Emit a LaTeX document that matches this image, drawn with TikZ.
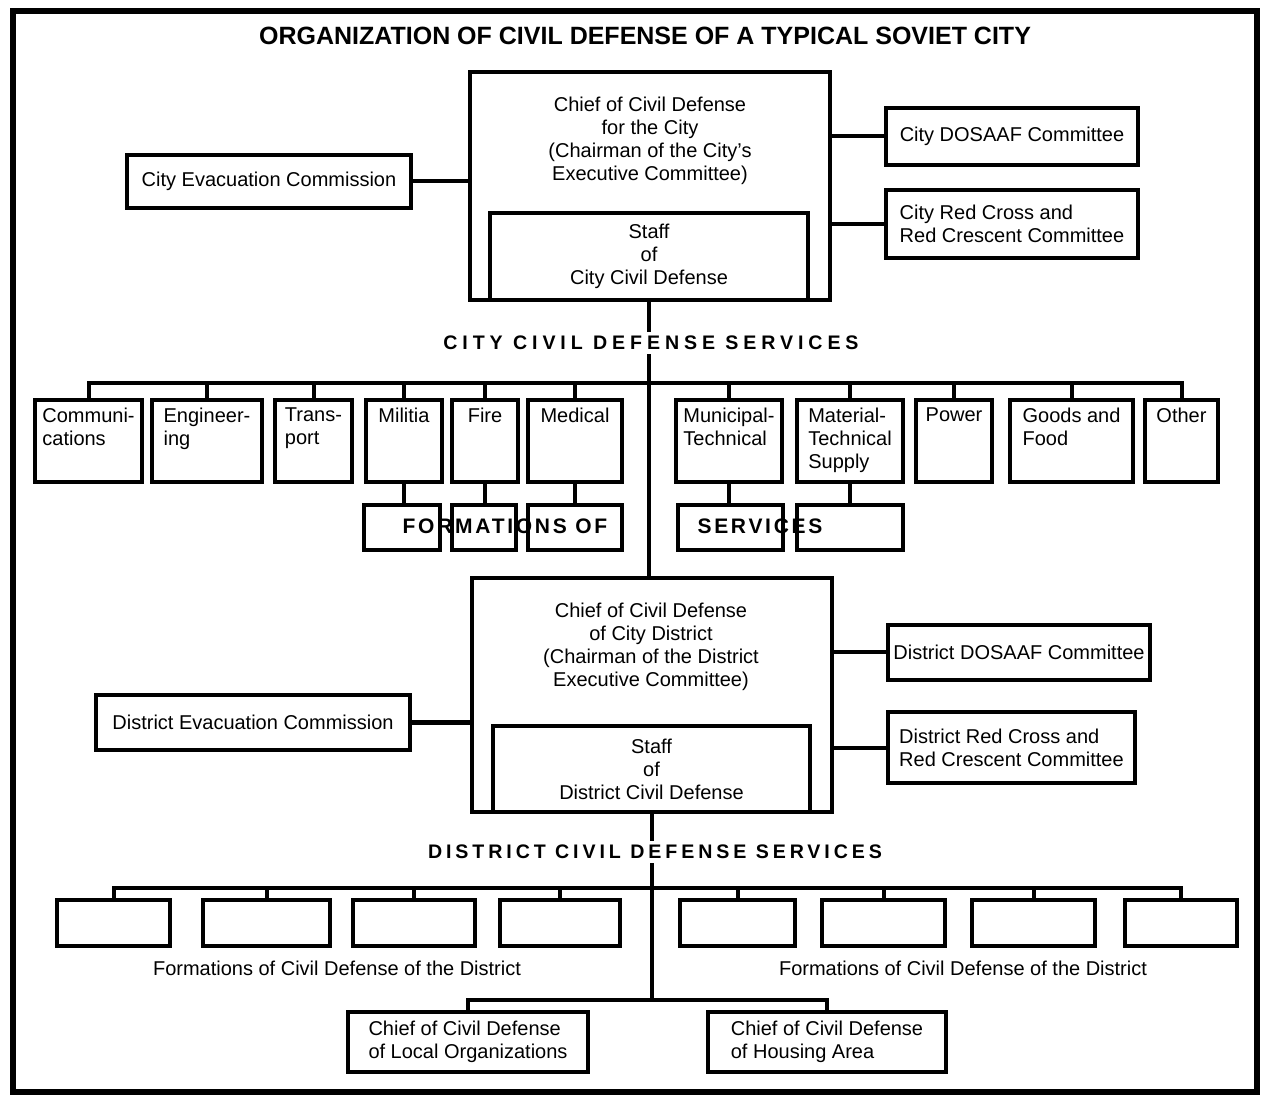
\documentclass[tikz,border=0pt]{standalone}
\usepackage{fontspec}
\setmainfont{Liberation Sans}
\usetikzlibrary{positioning}

\begin{document}
\begin{tikzpicture}[x=0.5pt,y=-0.5pt,line width=2pt,
    every node/.style={font=\fontsize{10}{11.5}\selectfont},
    box/.style={draw,inner sep=0pt,align=center},
    sbox/.style={draw,inner sep=0pt,minimum height=41pt},
    slabel/.style={anchor=north,align=left,inner sep=4pt},
    fbox/.style={draw,inner sep=0pt,minimum height=22.5pt},
    dbox/.style={draw,inner sep=0pt,minimum height=23pt},
    heading/.style={fill=white,inner sep=2pt,font=\fontsize{9.8}{11}\selectfont\bfseries\addfontfeatures{LetterSpace=#1}},
    spread/.style={inner sep=0pt,font=\fontsize{10.5}{12}\selectfont\bfseries\addfontfeatures{LetterSpace=13}}]
        \useasboundingbox (0,0) rectangle (1281,1096);
        \draw [line width=2.8pt] (13,11) rectangle (1257,1092);
        \node [font=\fontsize{12.5}{14}\selectfont\bfseries] (title) at (645,36) {ORGANIZATION OF CIVIL DEFENSE OF A TYPICAL SOVIET CITY};

        % city level
        \node [box,minimum width=180pt,minimum height=114pt] (citychief) at (650,186) {};
        \node [align=center] (citytitle) at (650,141) {Chief of Civil Defense\\for the City\\(Chairman of the City’s\\Executive Committee)};
        \node [box,minimum width=159pt,minimum height=43.5pt] (citystaff) at (649,256.5) {Staff\\of\\City Civil Defense};
        \node [box,minimum width=142pt,minimum height=26.5pt] (cityevac) at (269,181.5) {City Evacuation Commission};
        \node [box,minimum width=126pt,minimum height=28.5pt] (citydosaaf) at (1012,136.5) {City DOSAAF Committee};
        \node [box,align=left,minimum width=126pt,minimum height=34pt] (cityredcross) at (1012,224) {City Red Cross and\\Red Crescent Committee};
        \draw (cityevac.east) -- (cityevac.east -| citychief.west);
        \draw (citydosaaf.west) -- (citydosaaf.west -| citychief.east);
        \draw (cityredcross.west) -- (cityredcross.west -| citychief.east);

        % city services
        \coordinate (citybus) at (650,383);
        \node [sbox,minimum width=53.5pt,label={[slabel]north:{Communi-\\cations}}] (comm) at (88.5,441) {};
        \node [sbox,minimum width=55pt,label={[slabel]north:{Engineer-\\ing}}] (eng) at (207,441) {};
        \node [sbox,minimum width=38.5pt,label={[slabel]north:{Trans-\\port}}] (trans) at (313.5,441) {};
        \node [sbox,minimum width=38pt,label={[slabel]north:{Militia}}] (mil) at (404,441) {};
        \node [sbox,minimum width=33pt,label={[slabel]north:{Fire}}] (fire) at (485,441) {};
        \node [sbox,minimum width=47pt,label={[slabel]north:{Medical}}] (med) at (575,441) {};
        \node [sbox,minimum width=53pt,label={[slabel]north:{Municipal-\\Technical}}] (mun) at (729,441) {};
        \node [sbox,minimum width=53pt,label={[slabel]north:{Material-\\Technical\\Supply}}] (mat) at (850,441) {};
        \node [sbox,minimum width=38pt,label={[slabel]north:{Power}}] (pow) at (954,441) {};
        \node [sbox,minimum width=61.5pt,label={[slabel]north:{Goods and\\Food}}] (goods) at (1071.5,441) {};
        \node [sbox,minimum width=36.5pt,label={[slabel]north:{Other}}] (other) at (1181.5,441) {};
        \draw (comm.north) |- (citybus) -| (other.north);
        \draw (eng.north) -- (eng.north |- citybus);
        \draw (trans.north) -- (trans.north |- citybus);
        \draw (mil.north) -- (mil.north |- citybus);
        \draw (fire.north) -- (fire.north |- citybus);
        \draw (med.north) -- (med.north |- citybus);
        \draw (mun.north) -- (mun.north |- citybus);
        \draw (mat.north) -- (mat.north |- citybus);
        \draw (pow.north) -- (pow.north |- citybus);
        \draw (goods.north) -- (goods.north |- citybus);

        % formations of services
        \node [fbox,minimum width=38pt] (milform) at (402,527.5) {};
        \node [fbox,minimum width=32pt] (fireform) at (484,527.5) {};
        \node [fbox,minimum width=47pt] (medform) at (575,527.5) {};
        \node [fbox,minimum width=52.5pt] (munform) at (730.5,527.5) {};
        \node [fbox,minimum width=53pt] (matform) at (850,527.5) {};
        \draw (mil.south) -- (mil.south |- milform.north);
        \draw (fire.south) -- (fire.south |- fireform.north);
        \draw (med.south) -- (med.south |- medform.north);
        \draw (mun.south) -- (mun.south |- munform.north);
        \draw (mat.south) -- (mat.south |- matform.north);
        \node [spread] (formtext) at (505,526) {FORMATIONS OF};
        \node [spread] (servtext) at (760,526) {SERVICES};

        % district level
        \node [box,minimum width=180pt,minimum height=117pt] (distchief) at (652,695) {};
        \node [align=center] (disttitle) at (651,647) {Chief of Civil Defense\\of City District\\(Chairman of the District\\Executive Committee)};
        \node [box,minimum width=158.5pt,minimum height=43pt] (diststaff) at (651.5,769) {Staff\\of\\District Civil Defense};
        \node [box,minimum width=157pt,minimum height=27.5pt] (distevac) at (253,722.5) {District Evacuation Commission};
        \node [box,minimum width=131pt,minimum height=27.5pt] (distdosaaf) at (1019,652.5) {District DOSAAF Committee};
        \node [box,align=left,minimum width=123.5pt,minimum height=35.5pt] (distredcross) at (1011.5,747.5) {District Red Cross and\\Red Crescent Committee};
        \draw (distevac.east) -- (distevac.east -| distchief.west);
        \draw (distdosaaf.west) -- (distdosaaf.west -| distchief.east);
        \draw (distredcross.west) -- (distredcross.west -| distchief.east);

        % trunk from city to district
        \draw (citystaff.south) -- (citystaff.south |- distchief.north);
        \node [heading=25] (cityserv) at (651,343) {CITY CIVIL DEFENSE SERVICES};

        % district services
        \coordinate (distbus) at (652,888);
        \coordinate (localbus) at (652,1000);
        \node [dbox,minimum width=56.5pt] (dform1) at (113.5,923) {};
        \node [dbox,minimum width=63.5pt] (dform2) at (266.5,923) {};
        \node [dbox,minimum width=61pt] (dform3) at (414,923) {};
        \node [dbox,minimum width=60pt] (dform4) at (560,923) {};
        \node [dbox,minimum width=57.5pt] (dform5) at (737.5,923) {};
        \node [dbox,minimum width=61.5pt] (dform6) at (883.5,923) {};
        \node [dbox,minimum width=61.5pt] (dform7) at (1033.5,923) {};
        \node [dbox,minimum width=56pt] (dform8) at (1181,923) {};
        \draw (dform1.north) |- (distbus) -| (dform8.north);
        \draw (dform2.north) -- (dform2.north |- distbus);
        \draw (dform3.north) -- (dform3.north |- distbus);
        \draw (dform4.north) -- (dform4.north |- distbus);
        \draw (dform5.north) -- (dform5.north |- distbus);
        \draw (dform6.north) -- (dform6.north |- distbus);
        \draw (dform7.north) -- (dform7.north |- distbus);
        \node (leftform) at (337,968) {Formations of Civil Defense of the District};
        \node (rightform) at (963,968) {Formations of Civil Defense of the District};

        % local chiefs
        \node [box,align=left,minimum width=120pt,minimum height=30pt] (localorg) at (468,1042) {Chief of Civil Defense\\of Local Organizations};
        \node [box,align=left,minimum width=119pt,minimum height=30pt] (housing) at (827,1042) {Chief of Civil Defense\\of Housing Area};
        \draw (diststaff.south) -- (diststaff.south |- localbus);
        \draw (localorg.north) |- (localbus) -| (housing.north);
        \node [heading=20] (distserv) at (655,852) {DISTRICT CIVIL DEFENSE SERVICES};
\end{tikzpicture}
\end{document}
